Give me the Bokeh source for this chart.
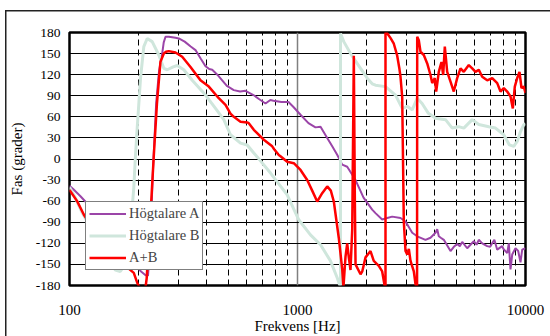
from bokeh.plotting import figure
from bokeh.models import (FixedTicker, Legend, LegendItem, Range1d)
from bokeh.embed import file_html
from bokeh.resources import INLINE

# ---------------- data ----------------
X_TICKS = [100, 1000, 10000]
X_TICK_LABELS = ["100", "1000", "10000"]
X_MINOR = [200, 300, 400, 500, 600, 700, 800, 900,
           2000, 3000, 4000, 5000, 6000, 7000, 8000, 9000]
Y_TICKS = [-180, -150, -120, -90, -60, -30, 0, 30, 60, 90, 120, 150, 180]
Y_TICK_LABELS = ["-180", "-150", "-120", "-90", "-60", "-30", "0",
                 "30", "60", "90", "120", "150", "180"]

SERIES_NAMES = ["Högtalare A", "Högtalare B", "A+B"]

A_FREQ = [100, 104, 111.7, 125, 145, 170, 195, 206, 215, 221, 226, 232, 240, 247,
          255, 259, 263.7, 272.7, 291.6, 301.5, 320, 340, 357, 376, 395, 410,
          422.6, 445, 467.4, 490, 525.5, 560, 591.4, 641, 680, 723.9, 760,
          784.7, 850, 913, 960, 1031, 1117, 1199, 1262, 1350, 1420, 1493, 1571,
          1652, 1797, 1948, 2126, 2198, 2352, 2474, 2603, 2830, 2977, 3185,
          3350, 3642, 3831, 4030, 4100, 4166, 4250, 4383, 4689, 4850, 5016,
          5150, 5278, 5550, 5932, 6100, 6240, 6458, 6792, 7000, 7144, 7300,
          7515, 7903, 8000, 8312, 8450, 8594, 8744, 9039, 9290, 9507, 9672, 10000]
A_PHASE = [-38, -43, -53, -70, -100, -132, -152, -160, -165, -166, -120, -20, 80, 125,
           150, 166, 174, 174, 172.5, 171.5, 167, 160, 155, 143, 132, 128,
           127, 120, 112, 104, 98, 96, 97, 91, 85, 79, 84,
           83, 81, 81, 74, 63, 51, 45, 46, 30, 18, 6, -8,
           -11, -30, -55, -72, -77, -86, -84, -82, -84, -89, -105,
           -110, -115, -112, -105, -100, -110, -112, -115, -131, -125, -121,
           -124, -118, -127, -117, -122, -115, -120, -124, -125, -120, -115,
           -129, -124, -128, -134, -120, -157, -136, -127, -131, -147, -129, -127]

B_FREQ = [100, 106, 113, 125, 140, 152, 159, 167, 176, 184, 191.4, 194.7, 198.1,
          204.9, 211.8, 219.2, 230.5, 246.4, 259.2, 268.3, 285, 296.7, 317.2,
          345.3, 395, 436.9, 475.1, 508.2, 562.3, 601.7, 643.2, 665.6, 761.4,
          901.2, 1013, 1140, 1262, 1395, 1493, 1530, 1544, 1544, 1596, 1708,
          1890, 2022, 2126, 2198, 2432, 2691, 2879, 3028, 3185, 3350, 3520,
          3750, 4030, 4458, 4770, 5090, 5363, 5837, 6240, 6900, 7386, 8032,
          8500, 8880, 9195, 9507, 9829, 10000]
B_PHASE = [-40, -55, -75, -100, -130, -150, -158, -160, -150, -110, -41, 5, 44,
           115, 160, 171.5, 167, 148, 129, 127, 131, 133, 127,
           112, 91, 72, 56, 34.5, 22.6, 20, 8.5, 3, -20,
           -51, -86.5, -108, -122, -145, -169, -179, -180, 178.6, 167, 150,
           129, 115, 107, 105, 103, 91, 72, 75, 70, 86.5, 79,
           65, 58, 56, 44, 46, 44, 56, 49, 46, 44, 34.5,
           20, 18, 25, 39, 49, 50]

AB_FREQ = [100, 108, 115.5, 130, 150, 170, 191.4, 198.1, 203, 209, 215.4, 218,
           226.6, 234.3, 242, 250.6, 259.2, 265, 272.7, 291.6, 312.1, 339.4,
           375.4, 408.3, 451.6, 483.3, 508.2, 525.5, 562.3, 601.7, 611.5, 643.2,
           711.6, 774.5, 790, 827.9, 842.2, 901.2, 963.4, 1031, 1103, 1160,
           1220, 1283, 1350, 1400, 1443, 1517, 1571, 1590, 1624, 1652, 1679,
           1708, 1738, 1766, 1785, 1797, 1890, 1923, 1988, 2090, 2160, 2273,
           2352, 2410, 2432, 2432, 2474, 2560, 2645, 2737, 2800, 2830, 2879,
           2926, 2977, 3028, 3078, 3131, 3237, 3293, 3330, 3345, 3350, 3404,
           3463, 3580, 3706, 3831, 3898, 4001, 4058, 4166, 4281, 4355, 4427,
           4535, 4689, 4847, 5016, 5187, 5363, 5640, 5837, 6035, 6240, 6458,
           6792, 7144, 7515, 7770, 8032, 8312, 8594, 8797, 8976, 9195, 9411,
           9604, 9829, 10000]
AB_PHASE = [-44, -60, -79, -105, -130, -148, -162, -176, -183, -200, -183, -170,
            -79, 5, 80, 138.5, 150, 152.5, 153.5, 151.6, 145.5, 131,
            112, 103, 86.5, 77, 64.7, 60, 53, 52, 51, 41.6,
            27.4, 18, 14, 5.7, 4, -3.8, -6, -15.6, -29.8, -45,
            -60.5, -48.6, -39, -45, -60.5, -112, -157, -183, -139, -120, -140,
            -158, -100, 147, -60, -150, -164, -160, -140, -131, -145, -152,
            -160, -180, -185, 180, 179, 172, 164, 147, 128, 117, 88,
            -89, -131, -136, -128, -145, -160, -178, -185, -185, 174, 169,
            152.6, 148, 136, 119.5, 108, 115, 96, 124, 138, 119.5, 160,
            124, 110, 96, 115, 129, 124, 133.6, 129, 124, 127, 117,
            112, 115, 108, 96, 101, 96, 89, 72, 103, 115, 124,
            101, 103, 94]

# ---------------- figure ----------------
SERIF = "Liberation Serif"

p = figure(width=550, height=336, x_axis_type="log",
           x_range=Range1d(100, 10000), y_range=Range1d(-180, 180),
           output_backend="svg", toolbar_location=None,
           min_border_left=69, min_border_right=25,
           min_border_top=32, min_border_bottom=50)

p.background_fill_color = "white"
p.border_fill_color = None
p.outline_line_color = "black"
p.outline_line_width = 2.5
p.outline_line_alpha = 1
# outer chart border (top and left edges, the rest runs off the picture)
p.styles = {"background": "linear-gradient(#222,#222) 5px 10px / 100% 1.5px no-repeat, "
                          "linear-gradient(#222,#222) 5px 10px / 1.5px 100% no-repeat, white"}

# axes
p.xaxis.ticker = FixedTicker(ticks=X_TICKS, minor_ticks=X_MINOR)
p.xaxis.major_label_overrides = {t: l for t, l in zip(X_TICKS, X_TICK_LABELS)}
p.yaxis.ticker = FixedTicker(ticks=Y_TICKS)
p.yaxis.major_label_overrides = {t: l for t, l in zip(Y_TICKS, Y_TICK_LABELS)}
for ax in (p.xaxis, p.yaxis):
    ax.axis_line_color = None
    ax.major_tick_line_color = None
    ax.minor_tick_line_color = None
    ax.major_tick_out = 0
    ax.minor_tick_out = 0
    ax.major_label_text_font = SERIF
    ax.major_label_text_color = "black"
    ax.axis_label_text_font = SERIF
    ax.axis_label_text_font_size = "15px"
    ax.axis_label_text_font_style = "normal"
    ax.axis_label_text_color = "black"
p.xaxis.major_label_text_font_size = "15px"
p.xaxis.major_label_standoff = 19
p.xaxis.axis_label = "Frekvens [Hz]"
p.xaxis.axis_label_standoff = 0
p.yaxis.major_label_text_font_size = "13.5px"
p.yaxis.major_label_standoff = 9
p.yaxis.axis_label = "Fas (grader)"
p.yaxis.axis_label_standoff = 8

# grids
p.xgrid.grid_line_color = "#808080"
p.xgrid.grid_line_width = 1.5
p.xgrid.minor_grid_line_color = "black"
p.xgrid.minor_grid_line_dash = "6 4"
p.xgrid.minor_grid_line_width = 1
p.ygrid.grid_line_color = "black"
p.ygrid.grid_line_width = 1

# series
rA = p.line(A_FREQ, A_PHASE, line_color="#9b45a8", line_width=2)
rB = p.line(B_FREQ, B_PHASE, line_color="#cfe6dc", line_width=3)
rAB = p.line(AB_FREQ, AB_PHASE, line_color="#ff0000", line_width=2.5)

legend = Legend(items=[LegendItem(label=SERIES_NAMES[0], renderers=[rA]),
                       LegendItem(label=SERIES_NAMES[1], renderers=[rB]),
                       LegendItem(label=SERIES_NAMES[2], renderers=[rAB])],
                location=(16, 15), margin=0, padding=3, spacing=5,
                label_height=17, glyph_height=17, glyph_width=37,
                label_standoff=3, label_width=61,
                label_text_font=SERIF, label_text_font_size="14.5px",
                border_line_color="black", border_line_width=1,
                background_fill_color="white", background_fill_alpha=1)
p.add_layout(legend)

open("out.html", "w").write(file_html(p, INLINE))
